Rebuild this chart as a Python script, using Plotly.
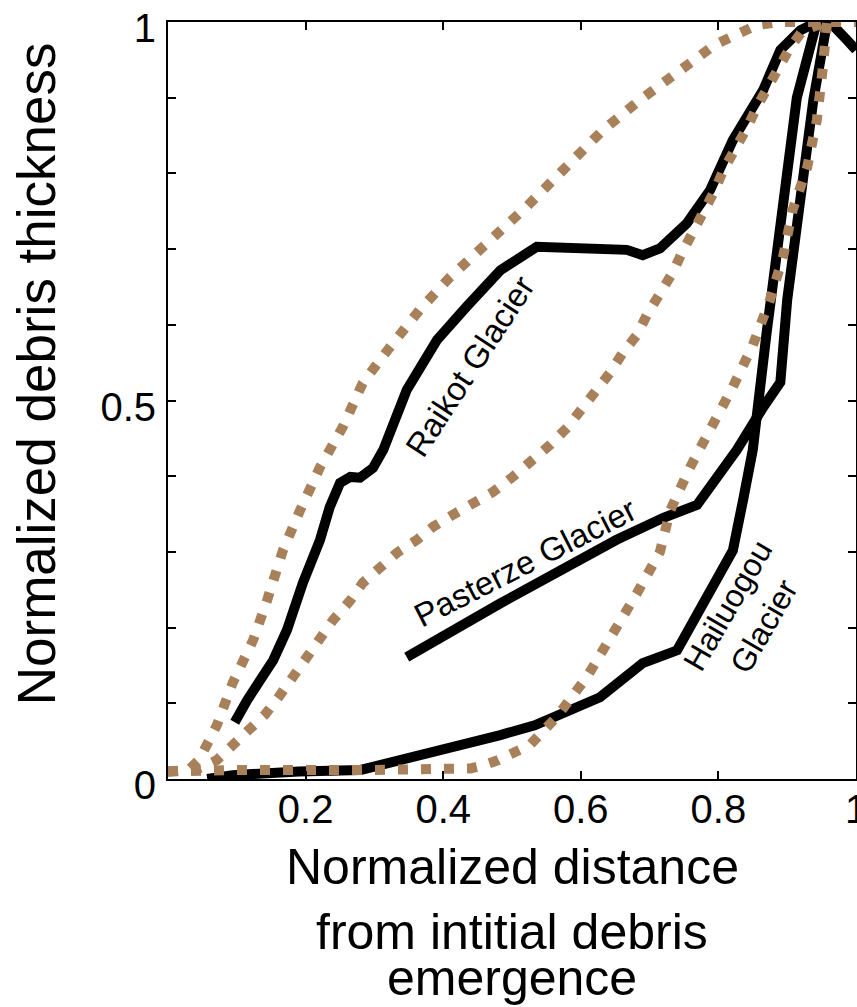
import plotly.graph_objects as go

# Measured debris-thickness profiles (normalized distance vs normalized thickness)
raikot_x = [0.097, 0.115, 0.153, 0.173, 0.196, 0.221, 0.235, 0.25, 0.265, 0.279, 0.298,
            0.313, 0.347, 0.391, 0.434, 0.483, 0.536, 0.667, 0.69, 0.715, 0.754, 0.788,
            0.821, 0.865, 0.89, 0.919, 0.943, 0.965, 0.987, 1.0]
raikot_y = [0.075, 0.104, 0.157, 0.197, 0.259, 0.316, 0.359, 0.391, 0.399, 0.398, 0.411,
            0.435, 0.514, 0.58, 0.624, 0.672, 0.703, 0.699, 0.692, 0.701, 0.734, 0.778,
            0.844, 0.91, 0.963, 0.989, 1.0, 0.997, 0.976, 0.963]

pasterze_x = [0.347, 0.483, 0.652, 0.72, 0.769, 0.827, 0.865, 0.89, 0.90, 0.919, 0.938, 0.958]
pasterze_y = [0.161, 0.232, 0.316, 0.345, 0.362, 0.435, 0.491, 0.524, 0.633, 0.765, 0.897, 1.0]

hailuogou_x = [0.057, 0.094, 0.19, 0.28, 0.483, 0.533, 0.628, 0.69, 0.74, 0.821, 0.836,
               0.85, 0.87, 0.894, 0.914, 0.943]
hailuogou_y = [0.0, 0.005, 0.01, 0.012, 0.058, 0.071, 0.108, 0.153, 0.17, 0.302, 0.369,
               0.435, 0.589, 0.765, 0.90, 1.0]

# Modelled profiles (dotted)
model_a_x = [0.0, 0.03, 0.045, 0.058, 0.071, 0.094, 0.124, 0.144, 0.167, 0.192, 0.221,
             0.254, 0.283, 0.323, 0.366, 0.41, 0.464, 0.52, 0.576, 0.632, 0.686, 0.74,
             0.795, 0.856, 0.89, 1.0]
model_a_y = [0.01, 0.012, 0.025, 0.045, 0.071, 0.127, 0.184, 0.236, 0.302, 0.355, 0.412,
             0.465, 0.523, 0.571, 0.62, 0.663, 0.708, 0.755, 0.806, 0.857, 0.897, 0.934,
             0.97, 0.996, 1.0, 1.0]

model_b_x = [0.0, 0.04, 0.071, 0.09, 0.119, 0.141, 0.163, 0.182, 0.202, 0.221, 0.24, 0.265,
             0.283, 0.308, 0.333, 0.362, 0.385, 0.414, 0.443, 0.472, 0.501, 0.526, 0.555,
             0.58, 0.599, 0.624, 0.642, 0.661, 0.682, 0.696, 0.715, 0.733, 0.747, 0.763,
             0.778, 0.795, 0.807, 0.827, 0.842, 0.856, 0.875, 0.89, 0.904, 0.923, 0.958]
model_b_y = [0.01, 0.012, 0.025, 0.042, 0.067, 0.085, 0.111, 0.135, 0.161, 0.188, 0.21,
             0.236, 0.259, 0.279, 0.299, 0.316, 0.333, 0.349, 0.365, 0.379, 0.399, 0.417,
             0.441, 0.464, 0.485, 0.511, 0.536, 0.563, 0.587, 0.613, 0.639, 0.668, 0.695,
             0.721, 0.749, 0.778, 0.804, 0.835, 0.861, 0.888, 0.919, 0.941, 0.966, 0.989, 1.0]

model_c_x = [0.0, 0.1, 0.3, 0.44, 0.458, 0.48, 0.526, 0.565, 0.609, 0.647, 0.682, 0.715,
             0.73, 0.759, 0.791, 0.821, 0.85, 0.875, 0.894, 0.908, 0.929, 0.943, 0.951, 0.958]
model_c_y = [0.01, 0.012, 0.012, 0.014, 0.018, 0.025, 0.045, 0.082, 0.135, 0.19, 0.246, 0.3,
             0.355, 0.412, 0.465, 0.518, 0.573, 0.633, 0.69, 0.752, 0.808, 0.87, 0.933, 1.0]

x_tick_vals = [0.0, 0.2, 0.4, 0.6, 0.8, 1.0]
x_tick_text = ["", "0.2", "0.4", "0.6", "0.8", "1"]
y_tick_vals = [0.0, 0.1, 0.2, 0.3, 0.4, 0.5, 0.6, 0.7, 0.8, 0.9, 1.0]
y_tick_text = ["0", "", "", "", "", "0.5", "", "", "", "", "1"]

FONT = "Liberation Sans, Arial, Helvetica, sans-serif"
BLACK = "#000000"
TAN = "#A8805A"

fig = go.Figure()

for xs, ys in [(raikot_x, raikot_y), (pasterze_x, pasterze_y), (hailuogou_x, hailuogou_y)]:
    fig.add_trace(go.Scatter(x=xs, y=ys, mode="lines",
                             line=dict(color=BLACK, width=10), showlegend=False))

for xs, ys in [(model_a_x, model_a_y), (model_b_x, model_b_y), (model_c_x, model_c_y)]:
    fig.add_trace(go.Scatter(x=xs, y=ys, mode="lines",
                             line=dict(color=TAN, width=10, dash="10px,13px"),
                             showlegend=False))

axis_common = dict(
    range=[0, 1], showgrid=False, zeroline=False,
    showline=True, linecolor=BLACK, linewidth=2, mirror="ticks",
    ticks="inside", ticklen=8, tickwidth=2, tickcolor=BLACK,
    tickfont=dict(family=FONT, size=40, color=BLACK),
    ticklabeloverflow="allow", automargin=False,
)

fig.update_xaxes(**axis_common, tickmode="array", tickvals=x_tick_vals,
                 ticktext=x_tick_text, ticklabelstandoff=-6)
fig.update_yaxes(**axis_common, tickmode="array", tickvals=y_tick_vals,
                 ticktext=y_tick_text, ticklabelshift=6, ticklabelstandoff=2)

annotations = [
    dict(text="Normalized debris thickness", x=-0.1919, y=0.536, textangle=-90,
         font=dict(size=53)),
    dict(text="Normalized distance", x=0.5, y=-0.1169, font=dict(size=50)),
    dict(text="from intitial debris", x=0.5, y=-0.2021, font=dict(size=50)),
    dict(text="emergence", x=0.5, y=-0.2635, font=dict(size=50)),
    dict(text="Raikot Glacier", x=(470 - 168) / 688, y=(779 - 367) / 757, textangle=-57,
         font=dict(size=33)),
    dict(text="Pasterze Glacier", x=(525 - 168) / 688, y=(779 - 562) / 757, textangle=-27,
         font=dict(size=33)),
    dict(text="Hailuogou<br>Glacier", x=(746 - 168) / 688, y=(779 - 616) / 757,
         textangle=-60, font=dict(size=32)),
]
for a in annotations:
    a.update(xref="paper", yref="paper", showarrow=False, xanchor="center",
             yanchor="middle")
    a["font"].update(family=FONT, color=BLACK)

fig.update_layout(
    width=857, height=1007,
    margin=dict(l=168, r=1, t=22, b=228),
    paper_bgcolor="white", plot_bgcolor="white",
    annotations=annotations,
    font=dict(family=FONT, color=BLACK),
)

fig.write_html("out.html")
